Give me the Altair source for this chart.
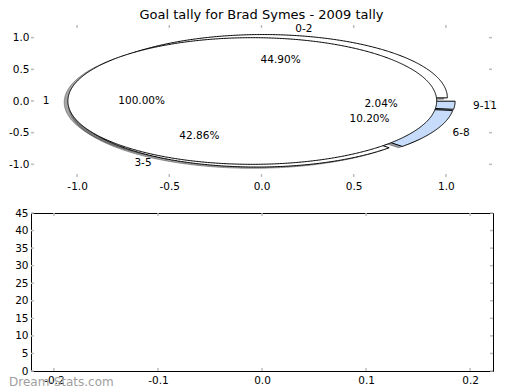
import altair as alt
import numpy as np
import pandas as pd

TITLE = "Goal tally for Brad Symes - 2009 tally"

# outer pie (goal tally ranges)
outer_labels = ["0-2", "3-5", "6-8", "9-11"]
outer_values = [22, 21, 5, 1]
outer_colors = ["#ffffff", "#ffffff", "#c6dcfa", "#c6dcfa"]

# inner pie
inner_labels = ["1"]
inner_values = [1]
inner_colors = ["#ffffff"]

pie_x_ticks = [-1.0, -0.5, 0.0, 0.5, 1.0]
pie_y_ticks = [-1.0, -0.5, 0.0, 0.5, 1.0]
low_x_ticks = [-0.2, -0.1, 0.0, 0.1, 0.2]
low_y_ticks = [0, 5, 10, 15, 20, 25, 30, 35, 40, 45]
WATERMARK = "Dream-Stats.com"

EXPLODE = 0.05
LABEL_D = 1.1
PCT_D = 0.6
SHADOW = -0.02
FONT = "DejaVu Sans"
TICKC = "#bdbdbd"


def shade(hexcol):
    h = hexcol.lstrip("#")
    r, g, b = (int(h[i:i + 2], 16) for i in (0, 2, 4))
    return "#%02x%02x%02x" % (int(r * 0.3), int(g * 0.3), int(b * 0.3))


def build_pie(name, labels, values, colors):
    polys, texts = [], []
    total = float(sum(values))
    t1 = 0.0
    for k, (lab, v, col) in enumerate(zip(labels, values, colors)):
        frac = v / total
        t2 = t1 + 360.0 * frac
        mid = np.deg2rad((t1 + t2) / 2.0)
        cx, cy = EXPLODE * np.cos(mid), EXPLODE * np.sin(mid)
        n = max(8, int(round((t2 - t1) * 2)))
        angs = np.deg2rad(np.linspace(t1, t2, n + 1))
        ring = [(cx + np.cos(a), cy + np.sin(a)) for a in angs]
        pts = ring if frac > 0.999999 else [(cx, cy)] + ring + [(cx, cy)]
        sid = f"{name}{k}"
        for i, (px, py) in enumerate(pts):
            polys.append(dict(sid=sid, kind="wedge", col=col, i=i, x=px, y=py))
            polys.append(dict(sid=sid + "s", kind="shadow", col=shade(col), i=i,
                              x=px + SHADOW, y=py + SHADOW))
        lx = cx + LABEL_D * np.cos(mid)
        ly = cy + LABEL_D * np.sin(mid)
        texts.append(dict(text=lab, x=lx, y=ly, ha="left" if lx > 0 else "right"))
        texts.append(dict(text=f"{frac * 100:.2f}%", x=cx + PCT_D * np.cos(mid),
                          y=cy + PCT_D * np.sin(mid), ha="center"))
        t1 = t2
    return pd.DataFrame(polys), pd.DataFrame(texts)


outer_poly, outer_text = build_pie("o", outer_labels, outer_values, outer_colors)
inner_poly, inner_text = build_pie("i", inner_labels, inner_values, inner_colors)
all_poly = pd.concat([outer_poly, inner_poly], ignore_index=True)
all_text = pd.concat([outer_text, inner_text], ignore_index=True)


def axis(values, fmt, pad):
    return alt.Axis(values=values, ticks=False, domain=False, grid=False,
                    labelPadding=pad, labelFontSize=10.5, labelFont=FONT,
                    labelColor="black", title=None, labelFlush=False,
                    labelOverlap=False,
                    labelExpr=f"(datum.value < 0 ? '-' : '') + format(abs(datum.value), '{fmt}')")


def tick_layers(xticks, yticks, X, Y, w, h):
    dx = pd.DataFrame({"x": xticks})
    dy = pd.DataFrame({"y": yticks})
    base_x = alt.Chart(dx).mark_rule(color=TICKC, strokeWidth=1.5)
    base_y = alt.Chart(dy).mark_rule(color=TICKC, strokeWidth=1.5)
    return [
        base_x.encode(x=X, y=alt.value(h), y2=alt.value(h - 3)),
        base_x.encode(x=X, y=alt.value(0), y2=alt.value(3)),
        base_y.encode(y=Y, x=alt.value(0), x2=alt.value(3)),
        base_y.encode(y=Y, x=alt.value(w - 3), x2=alt.value(w)),
    ]


# ---------- top (pie) panel ----------
TW, TH = 461, 152
PX = alt.X("x:Q", scale=alt.Scale(domain=[-1.25, 1.25], nice=False, zero=False),
           axis=axis(pie_x_ticks, ".1f", 4))
PY = alt.Y("y:Q", scale=alt.Scale(domain=[-1.2, 1.2], nice=False, zero=False),
           axis=axis(pie_y_ticks, ".1f", 2))

layers = []
# shadows first
shadows = all_poly[all_poly["kind"] == "shadow"]
for col in shadows["col"].unique():
    d = shadows[shadows["col"] == col]
    layers.append(alt.Chart(d).mark_line(fill=col, fillOpacity=0.5, stroke=col,
                                         strokeOpacity=0.5, strokeWidth=1)
                  .encode(x=PX, y=PY, detail="sid:N", order="i:Q"))
# wedges: outer then inner
for poly in (outer_poly, inner_poly):
    w = poly[poly["kind"] == "wedge"]
    for col in w["col"].unique():
        d = w[w["col"] == col]
        layers.append(alt.Chart(d).mark_line(fill=col, stroke="black", strokeWidth=1,
                                             strokeJoin="miter")
                      .encode(x=PX, y=PY, detail="sid:N", order="i:Q"))
# texts
for al in ("left", "right", "center"):
    d = all_text[all_text["ha"] == al]
    if len(d):
        layers.append(alt.Chart(d).mark_text(align=al, baseline="middle", fontSize=10.5,
                                             font=FONT, color="black")
                      .encode(x=PX, y=PY, text="text:N"))
layers += tick_layers(pie_x_ticks, pie_y_ticks, PX, PY, TW, TH)

top = alt.layer(*layers).properties(
    width=TW, height=TH,
    title=alt.TitleParams(TITLE, fontSize=13, font=FONT, fontWeight="normal",
                          color="black", offset=2, frame="group", anchor="middle"),
    view=alt.ViewBackground(stroke="transparent"),
)

# ---------- bottom (empty) panel ----------
BW, BH = 462, 158
LX = alt.X("x:Q", scale=alt.Scale(domain=[-0.222, 0.222], nice=False, zero=False),
           axis=axis(low_x_ticks, ".1f", 4))
LY = alt.Y("y:Q", scale=alt.Scale(domain=[0, 45], nice=False, zero=False),
           axis=axis(low_y_ticks, ".0f", 3))

wm = alt.Chart(pd.DataFrame({"t": [WATERMARK]})).mark_text(
    align="left", baseline="middle", fontSize=12, font=FONT, color="#a0a0a0"
).encode(text="t:N", x=alt.value(-22), y=alt.value(BH + 11))

bottom = alt.layer(*tick_layers(low_x_ticks, low_y_ticks, LX, LY, BW, BH), wm).properties(
    width=BW, height=BH,
    view=alt.ViewBackground(stroke="black", strokeWidth=1),
)

chart = alt.vconcat(top, bottom, spacing=15).properties(
    padding={"left": 0, "top": 0, "right": 0, "bottom": 0},
    background="white",
)

chart.save("out.html", embed_options={"renderer": "svg", "actions": False})
